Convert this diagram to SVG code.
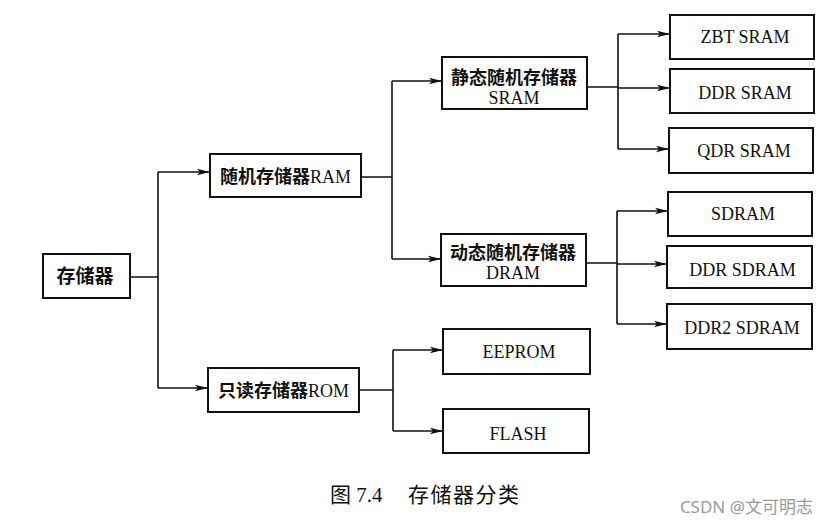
<svg xmlns="http://www.w3.org/2000/svg" width="828" height="525" viewBox="0 0 828 525">
  <style>
    .box { fill: #fff; stroke: #111; stroke-width: 2; }
    .wire { fill: none; stroke: #111; stroke-width: 1.6; }
    .arrow { fill: none; stroke: #111; stroke-width: 1.6; marker-end: url(#head); }
    .cn { font-family: "Noto Sans CJK SC", "Liberation Sans", sans-serif; font-weight: bold; font-size: 18px; fill: #111; }
    .en { font-family: "Liberation Serif", "Noto Sans CJK SC", serif; font-size: 18px; fill: #111; }
    .mid { text-anchor: middle; }
    .cap { font-family: "Liberation Serif", "Noto Sans CJK SC", serif; font-size: 21px; fill: #111; }
    .mark { font-family: "Noto Sans", "Noto Sans CJK SC", sans-serif; font-size: 17px; fill: #9a9a9a; text-anchor: end; }
  </style>
  <defs>
    <marker id="head" markerUnits="userSpaceOnUse" markerWidth="14" markerHeight="8" refX="13" refY="4" orient="auto">
      <path d="M0,0.8 L13,4 L0,7.2 L3,4 z" fill="#111"/>
    </marker>
  </defs>
  <rect width="828" height="525" fill="#fff"/>

  <!-- connectors -->
  <g id="connectors">
    <path class="wire" d="M130,277 H158 M158,172 V388"/>
    <path class="arrow" d="M158,172 H210"/>
    <path class="arrow" d="M158,388 H208"/>

    <path class="wire" d="M361,177 H392 M392,81 V259"/>
    <path class="arrow" d="M392,81 H442"/>
    <path class="arrow" d="M392,259 H441"/>

    <path class="wire" d="M359,390 H393 M393,350 V431"/>
    <path class="arrow" d="M393,350 H443"/>
    <path class="arrow" d="M393,431 H443"/>

    <path class="wire" d="M587,87 H618 M618,34 V149"/>
    <path class="arrow" d="M618,34 H670"/>
    <path class="arrow" d="M618,88 H670"/>
    <path class="arrow" d="M618,149 H669"/>

    <path class="wire" d="M586,263 H617 M617,211 V324"/>
    <path class="arrow" d="M617,211 H668"/>
    <path class="arrow" d="M617,264 H667"/>
    <path class="arrow" d="M617,324 H667"/>
  </g>

  <!-- nodes -->
  <g id="memory">
    <rect class="box" x="43" y="254" width="87" height="44"/>
    <text class="cn mid" x="85" y="283" style="font-size:19px">存储器</text>
  </g>
  <g id="ram">
    <rect class="box" x="210" y="154" width="151" height="43"/>
    <text class="cn mid" x="285.5" y="183">随机存储器<tspan class="en" font-weight="normal">RAM</tspan></text>
  </g>
  <g id="rom">
    <rect class="box" x="208" y="368" width="151" height="44"/>
    <text class="cn mid" x="283.5" y="396.5">只读存储器<tspan class="en" font-weight="normal">ROM</tspan></text>
  </g>
  <g id="sram">
    <rect class="box" x="442" y="57" width="145" height="52"/>
    <text class="cn mid" x="514" y="83.5">静态随机存储器</text>
    <text class="en mid" x="514" y="103.5">SRAM</text>
  </g>
  <g id="dram">
    <rect class="box" x="441" y="234" width="145" height="52"/>
    <text class="cn mid" x="513" y="258.5">动态随机存储器</text>
    <text class="en mid" x="513" y="278.5">DRAM</text>
  </g>
  <g id="zbt-sram">
    <rect class="box" x="670" y="15" width="144" height="44"/>
    <text class="en mid" x="745" y="43">ZBT SRAM</text>
  </g>
  <g id="ddr-sram">
    <rect class="box" x="670" y="69" width="144" height="44"/>
    <text class="en mid" x="745" y="99">DDR SRAM</text>
  </g>
  <g id="qdr-sram">
    <rect class="box" x="669" y="128" width="144" height="45"/>
    <text class="en mid" x="744" y="157">QDR SRAM</text>
  </g>
  <g id="sdram">
    <rect class="box" x="668" y="192" width="144" height="44"/>
    <text class="en mid" x="743" y="219.5">SDRAM</text>
  </g>
  <g id="ddr-sdram">
    <rect class="box" x="667" y="246" width="145" height="42"/>
    <text class="en mid" x="742.5" y="275.5">DDR SDRAM</text>
  </g>
  <g id="ddr2-sdram">
    <rect class="box" x="667" y="304" width="145" height="45"/>
    <text class="en mid" x="742" y="334">DDR2 SDRAM</text>
  </g>
  <g id="eeprom">
    <rect class="box" x="443" y="329" width="147" height="45"/>
    <text class="en mid" x="519" y="358">EEPROM</text>
  </g>
  <g id="flash">
    <rect class="box" x="443" y="409" width="146" height="44"/>
    <text class="en mid" x="518" y="440">FLASH</text>
  </g>

  <!-- caption and watermark -->
  <text class="cap" x="330" y="502">图 7.4<tspan x="408" letter-spacing="1.5">存储器分类</tspan></text>
  <text class="mark" x="813" y="513">CSDN @文可明志</text>
</svg>
